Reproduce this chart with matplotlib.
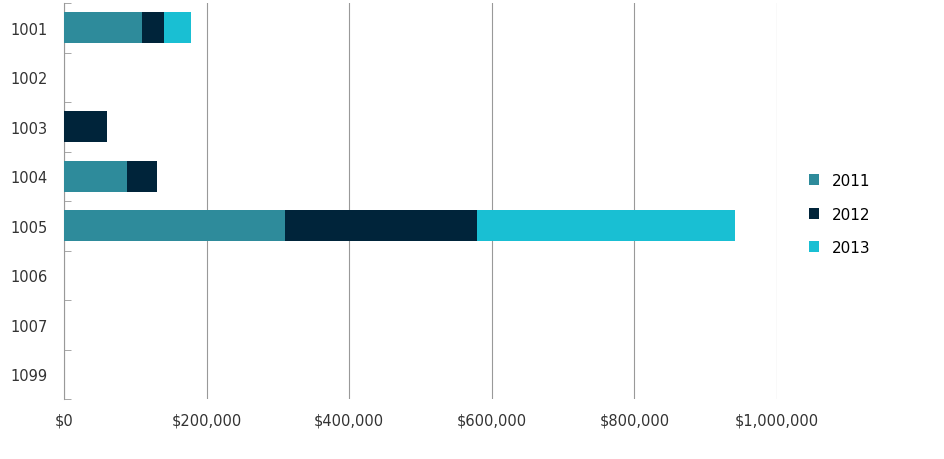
import matplotlib
matplotlib.use("Agg")
import matplotlib.pyplot as plt
import numpy as np
from matplotlib.ticker import FuncFormatter

categories = ["1001", "1002", "1003", "1004", "1005", "1006", "1007", "1099"]
v2011 = [110000, 0, 0, 88000, 310000, 0, 0, 0]
v2012 = [30000, 0, 60000, 43000, 269000, 0, 0, 0]
v2013 = [38000, 0, 0, 0, 362000, 0, 0, 0]
years = ["2011", "2012", "2013"]
colors = ["#2E8B9B", "#00243A", "#19BFD3"]

fig = plt.figure(figsize=(9.45, 4.6), dpi=100)
ax = fig.add_axes([64/945, 60/460, 713/945, 396/460])
y = np.arange(len(categories))
left = np.zeros(len(categories))
for vals, lab, c in zip([v2011, v2012, v2013], years, colors):
    ax.barh(y, vals, left=left, height=0.62, color=c, label=lab, zorder=3)
    left += np.array(vals)

ax.set_ylim(len(categories) - 0.5, -0.5)
ax.set_xlim(0, 1000000)
ax.set_xticks(np.arange(0, 1000001, 200000))
ax.xaxis.set_major_formatter(FuncFormatter(lambda v, p: "${:,.0f}".format(v)))
ax.set_yticks(y)
ax.set_yticklabels(categories)
ax.set_yticks(np.arange(-0.5, len(categories), 1), minor=True)
ax.tick_params(axis="y", which="major", length=0, pad=12, labelsize=10.5, colors="#333333")
ax.tick_params(axis="y", which="minor", length=5, color="#999999", direction="in")
ax.tick_params(axis="x", length=0, pad=10, labelsize=10.5, colors="#333333")
ax.grid(axis="x", color="#999999", linewidth=0.8, zorder=0)
for s in ["top", "right", "bottom"]:
    ax.spines[s].set_visible(False)
ax.spines["left"].set_color("#999999")
ax.yaxis.set_ticks_position("left")

fig.legend(loc="center left", bbox_to_anchor=(795/945, 1 - 215/460), frameon=False,
           fontsize=11, handlelength=0.7, handleheight=0.7, labelspacing=1.2)
fig.savefig("out.png", dpi=100)
